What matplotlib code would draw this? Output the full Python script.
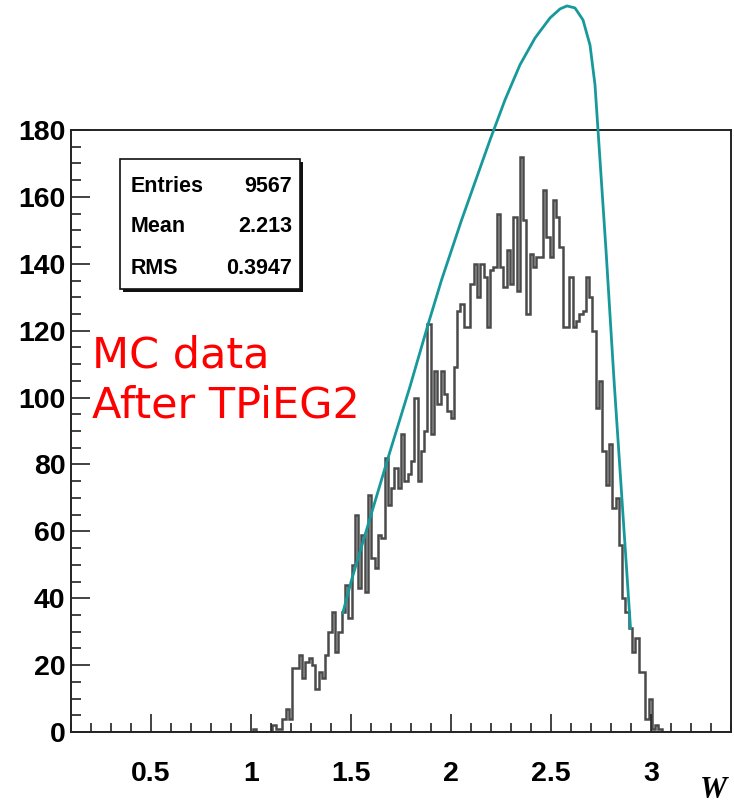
import matplotlib

matplotlib.use("Agg")
import matplotlib.pyplot as plt
from matplotlib.ticker import MultipleLocator, FuncFormatter
from matplotlib.patches import Rectangle
from matplotlib.transforms import Affine2D
import numpy as np

plt.rcParams["font.family"] = ["Liberation Sans", "DejaVu Sans"]
plt.rcParams["font.weight"] = "bold"

# W histogram: 200 bins on [0.1, 3.4], counts listed from bin 55 onwards
bin_lo, bin_hi, n_bins = 0.1, 3.4, 200
first_bin = 55
counts = [
    1, 0, 0, 0, 0, 0,
    2, 1, 1, 4, 7, 4,
    19, 19, 23, 16, 21, 22, 20, 13, 18, 16, 23,
    30, 36, 24, 30, 36, 44, 34, 50, 65, 43, 59, 42,
    71, 52, 49, 59, 58, 82, 68, 73, 79, 73,
    89, 75, 77, 81, 100, 75, 84, 90, 122,
    89, 108, 98, 108, 101, 96, 94, 109, 126, 128,
    121, 121, 134, 140, 130, 140, 136, 121, 138, 139, 155,
    139, 133, 144, 134, 154, 132, 172, 153, 125, 143,
    139, 142, 142, 162, 148, 142, 159, 154, 145, 121,
    121, 136, 121, 123, 125, 126, 136, 130, 120, 97,
    105, 84, 74, 86, 67, 70, 56, 40, 36, 31,
    24, 28, 18, 18, 4, 10, 1, 2, 1,
]

# fitted shape overlaid on the histogram
curve_w = [1.459, 1.503, 1.687, 1.795, 1.887, 1.953, 2.053, 2.195, 2.27, 2.345,
           2.42, 2.495, 2.545, 2.58, 2.62, 2.66, 2.695, 2.72, 2.735, 2.775,
           2.815, 2.855, 2.8975]
curve_y = [35.6, 45.5, 82.3, 103.3, 122.2, 135.2, 153.1, 177.0, 189.0, 199.5,
           207.5, 213.5, 216.2, 217.1, 216.5, 212.9, 205.4, 193.5, 180.0, 144.1,
           105.3, 69.4, 31.1]

stat_names = ["Entries", "Mean", "RMS"]
stat_values = ["9567", "2.213", "0.3947"]

W, H = 734, 806
fig = plt.figure(figsize=(W / 100, H / 100), dpi=100)
ax = fig.add_axes([71 / W, 74 / H, 660 / W, 602 / H])

edges = np.linspace(bin_lo, bin_hi, n_bins + 1)
full = np.zeros(n_bins)
full[first_bin:first_bin + len(counts)] = counts
ax.stairs(full, edges, color="#4a4a4a", lw=1.8)

ax.plot(curve_w, curve_y, color="#17999b", lw=2.0, clip_on=False, zorder=5)

ax.set_xlim(bin_lo, bin_hi)
ax.set_ylim(0, 180)
ax.xaxis.set_major_locator(MultipleLocator(0.5))
ax.xaxis.set_minor_locator(MultipleLocator(0.1))
ax.yaxis.set_major_locator(MultipleLocator(20))
ax.yaxis.set_minor_locator(MultipleLocator(5))
ax.xaxis.set_major_formatter(FuncFormatter(lambda v, p: "%g" % v))
ax.tick_params(axis="both", which="both", direction="in", top=False, right=False,
               width=1.2, color="#222222")
ax.tick_params(axis="y", which="major", length=14, pad=4, labelsize=20.5)
ax.tick_params(axis="y", which="minor", length=7)
ax.tick_params(axis="x", which="major", length=13, pad=21, labelsize=20.5)
ax.tick_params(axis="x", which="minor", length=6.5)
for s in ax.spines.values():
    s.set_linewidth(1.4)
    s.set_color("#222222")

# pixel coordinates, origin at top-left of the figure
pix = Affine2D().scale(1 / W, -1 / H).translate(0, 1) + fig.transFigure

fig.patches.append(Rectangle((123, 162), 180, 130, transform=pix,
                             facecolor="#111111", edgecolor="none", zorder=6))
fig.patches.append(Rectangle((120, 159), 180, 130, transform=pix,
                             facecolor="white", edgecolor="#111111", lw=1.2, zorder=7))
for i, (name, val) in enumerate(zip(stat_names, stat_values)):
    y = 186 + i * 41
    fig.text(131, y, name, transform=pix, fontsize=15.5, ha="left", va="center", zorder=8)
    fig.text(292, y, val, transform=pix, fontsize=15.5, ha="right", va="center", zorder=8)

fig.text(92, 367, "MC data", transform=pix, color="red", fontsize=31,
         family="DejaVu Sans", fontweight="normal", va="baseline")
fig.text(92, 417, "After TPiEG2", transform=pix, color="red", fontsize=31,
         family="DejaVu Sans", fontweight="normal", va="baseline")

fig.text(727, 790, "W", transform=pix, fontsize=22, family="Liberation Serif",
         style="italic", fontweight="bold", ha="right", va="center")

fig.savefig("out.png", dpi=100)
